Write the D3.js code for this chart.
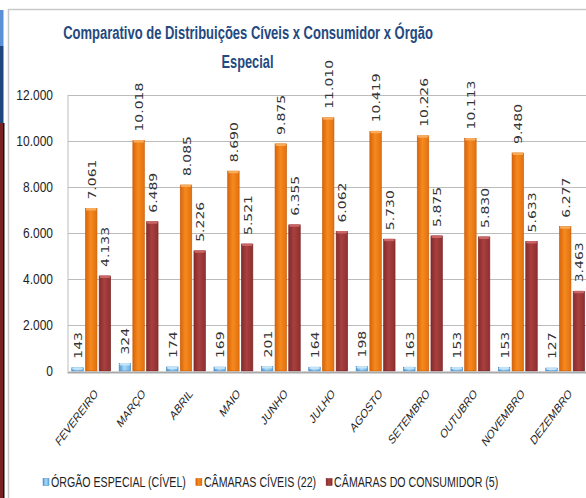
<!DOCTYPE html>
<html>
<head>
<meta charset="utf-8">
<script src="https://cdn.jsdelivr.net/npm/d3@7"></script>
<style>
  html, body { margin: 0; padding: 0; background: #fff; }
  svg { display: block; }
</style>
</head>
<body>
<svg id="chart" width="586" height="498"></svg>
<script>
// ---- data ----
const months = ["FEVEREIRO","MARÇO","ABRIL","MAIO","JUNHO","JULHO","AGOSTO","SETEMBRO","OUTUBRO","NOVEMBRO","DEZEMBRO"];
const orgaoEspecial = [143,324,174,169,201,164,198,163,153,153,127];
const camarasCiveis = [7061,10018,8085,8690,9875,11010,10419,10226,10113,9480,6277];
const camarasConsumidor = [4133,6489,5226,5521,6355,6062,5730,5875,5830,5633,3463];
const seriesNames = ["ÓRGÃO ESPECIAL (CÍVEL)","CÂMARAS CÍVEIS (22)","CÂMARAS DO CONSUMIDOR (5)"];
const yTicks = [0,2000,4000,6000,8000,10000,12000];
const titleLines = ["Comparativo de Distribuições Cíveis x Consumidor x Órgão","Especial"];

const seriesValues = [orgaoEspecial, camarasCiveis, camarasConsumidor];

// ---- layout ----
const SQ = 0.8; // horizontal squash of texts (reference looks condensed)
const svg = d3.select("#chart");
const plot = {left: 67.5, right: 588.9, top: 95, bottom: 371};

const locale = d3.formatLocale({decimal: ",", thousands: ".", grouping: [3], currency: ["R$",""]});
const fmt = locale.format(",d");

const x0 = d3.scaleBand().domain(months).range([plot.left, plot.right]).paddingInner(0).paddingOuter(0);
const x1 = d3.scaleBand().domain(seriesNames).range([0, x0.bandwidth()]).paddingInner(0.16).paddingOuter(0.31);
const y = d3.scaleLinear().domain([0, 12000]).range([plot.bottom, plot.top]);

// gradients
const defs = svg.append("defs");
const palettes = [
  {id: "gBlue", stops: ["#4f97d4", "#a9d7f6", "#6aaee2"], cap: "#c9e8fb", edge: "#3f86c4"},
  {id: "gOrange", stops: ["#d9640a", "#f58a1f", "#e2700e"], cap: "#f9b060", edge: "#c85a08"},
  {id: "gRed", stops: ["#852a2a", "#a94040", "#8e2f2f"], cap: "#cf6a6a", edge: "#7a2424"}
];
palettes.forEach(p => {
  const g = defs.append("linearGradient").attr("id", p.id).attr("x1", "0").attr("x2", "1").attr("y1", "0").attr("y2", "0");
  g.append("stop").attr("offset", "0%").attr("stop-color", p.stops[0]);
  g.append("stop").attr("offset", "45%").attr("stop-color", p.stops[1]);
  g.append("stop").attr("offset", "100%").attr("stop-color", p.stops[2]);
});

// slide decoration on left edge
svg.append("rect").attr("x", 0).attr("y", 10).attr("width", 3.5).attr("height", 36).attr("fill", "#5b8fd6");
svg.append("rect").attr("x", 0).attr("y", 46).attr("width", 3.5).attr("height", 77).attr("fill", "#1f467e");
svg.append("rect").attr("x", 0).attr("y", 123).attr("width", 3).attr("height", 375).attr("fill", "#7a2020");
svg.append("rect").attr("x", 3).attr("y", 123).attr("width", 1.5).attr("height", 375).attr("fill", "#111");

// chart area border
svg.append("path").attr("d", "M8.5,498 L8.5,9.5 L586,9.5").attr("fill", "none").attr("stroke", "#c9c9c9").attr("stroke-width", 1.5);

// title (natural width measured, then condensed to the reference width)
const titleG = svg.append("g").attr("fill", "#24497e").attr("font-family", "'Liberation Sans', Arial, sans-serif").attr("font-weight", "bold").attr("font-size", 19);
const titlePos = [{x: 248, y: 39, w: 370}, {x: 247.5, y: 68, w: 52}];
titleLines.forEach((line, i) => {
  const t = titleG.append("text").attr("text-anchor", "middle").text(line);
  const nat = t.node().getComputedTextLength();
  const s = titlePos[i].w / nat;
  t.attr("transform", `translate(${titlePos[i].x},${titlePos[i].y}) scale(${s},1)`);
});

// gridlines
svg.append("g").selectAll("line").data(yTicks.filter(d => d > 0)).join("line")
  .attr("x1", plot.left + 0.5).attr("x2", 586)
  .attr("y1", d => Math.round(y(d)) + 0.5).attr("y2", d => Math.round(y(d)) + 0.5)
  .attr("stroke", "#bcbcbc").attr("stroke-width", 1);

// vertical axis line
svg.append("line").attr("x1", 68).attr("x2", 68).attr("y1", y(12000)).attr("y2", y(0))
  .attr("stroke", "#bcbcbc").attr("stroke-width", 1);

// y tick labels
svg.append("g").selectAll("text").data(yTicks).join("text")
  .attr("transform", d => `translate(53,${y(d)}) scale(${SQ},1)`)
  .attr("dy", "0.36em").attr("text-anchor", "end")
  .attr("font-family", "'Liberation Sans', Arial, sans-serif").attr("font-size", 15).attr("fill", "#1e1e1e")
  .text(d => fmt(d));

// bars
const flat = [];
months.forEach((m, i) => {
  seriesNames.forEach((s, k) => flat.push({m, s, k, v: seriesValues[k][i]}));
});

const barG = svg.append("g");
const bw = x1.bandwidth();
barG.selectAll("rect.bar").data(flat).join("rect").attr("class", "bar")
  .attr("x", d => x0(d.m) + x1(d.s))
  .attr("y", d => y(d.v))
  .attr("width", bw)
  .attr("height", d => y(0) - y(d.v))
  .attr("fill", d => `url(#${palettes[d.k].id})`)
  .attr("stroke", d => palettes[d.k].edge).attr("stroke-width", 0.6);

barG.selectAll("rect.cap").data(flat).join("rect").attr("class", "cap")
  .attr("x", d => x0(d.m) + x1(d.s) + 0.5)
  .attr("y", d => y(d.v) - 0.5)
  .attr("width", bw - 1)
  .attr("height", 2.5).attr("rx", 1.2)
  .attr("fill", d => palettes[d.k].cap).attr("opacity", 0.9);

// floor line
svg.append("line").attr("x1", plot.left).attr("x2", 586).attr("y1", y(0) + 1.5).attr("y2", y(0) + 1.5)
  .attr("stroke", "#a9a9a9").attr("stroke-width", 2);

// value labels
svg.append("g").selectAll("text").data(flat).join("text")
  .attr("transform", d => `translate(${x0(d.m) + x1(d.s) + bw / 2 + 0.5},${y(d.v) - 9}) scale(${SQ},1) rotate(-90)`)
  .attr("dy", "0.36em")
  .attr("font-family", "'DejaVu Sans', Verdana, sans-serif").attr("font-size", 14).attr("fill", "#333")
  .text(d => fmt(d.v));

// x labels
svg.append("g").selectAll("text").data(months).join("text")
  .attr("transform", d => `translate(${x0(d) + x0.bandwidth() / 2 + 2.5},388) scale(0.75,1) rotate(-45)`)
  .attr("dy", "0.72em").attr("text-anchor", "end")
  .attr("font-family", "'Liberation Sans', Arial, sans-serif").attr("font-size", 12.8).attr("fill", "#1e1e1e")
  .text(d => d);

// legend
const LSQ = 0.76;
const legend = svg.append("g").attr("transform", "translate(43,482)");
let lx = 0;
seriesNames.forEach((s, k) => {
  const g = legend.append("g").attr("transform", `translate(${lx},0)`);
  g.append("rect").attr("x", 0).attr("y", -3.5).attr("width", 6).attr("height", 7)
    .attr("fill", `url(#${palettes[k].id})`).attr("stroke", palettes[k].edge).attr("stroke-width", 0.5);
  const t = g.append("text").attr("transform", `translate(8,0) scale(${LSQ},1)`).attr("dy", "0.36em")
    .attr("font-family", "'Liberation Sans', Arial, sans-serif").attr("font-size", 14).attr("fill", "#1e1e1e")
    .text(s);
  const w = t.node().getComputedTextLength() * LSQ;
  lx += 8 + w + 10;
});
</script>
</body>
</html>
